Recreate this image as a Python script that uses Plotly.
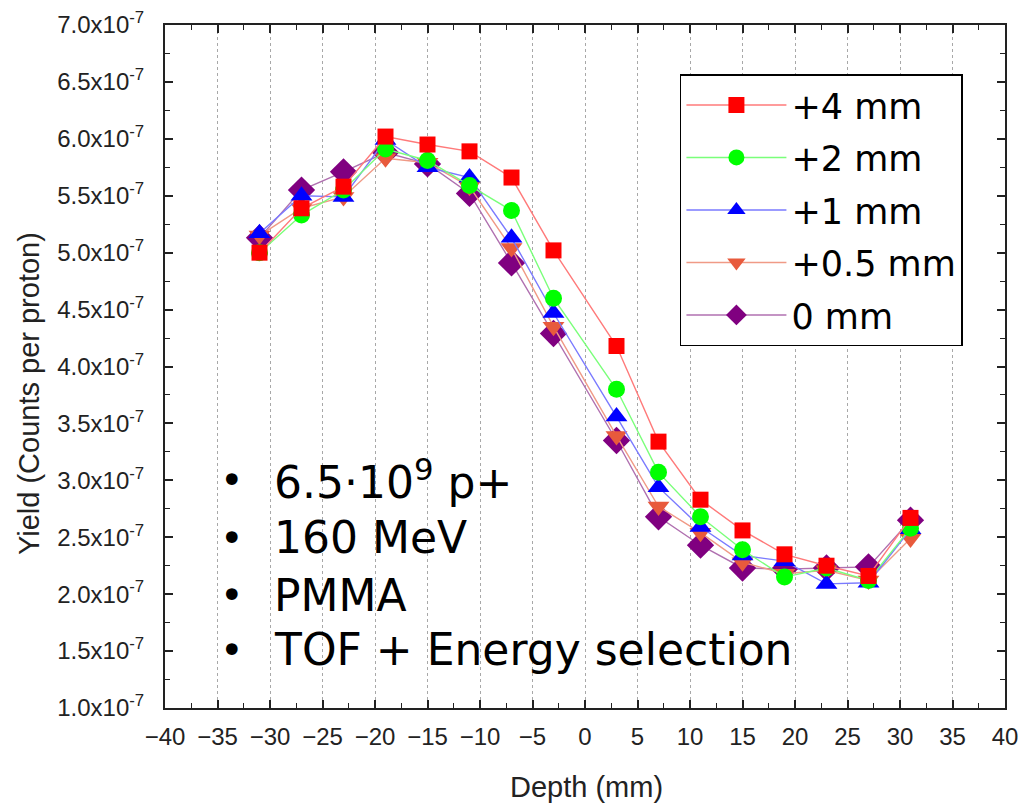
import plotly.graph_objects as go

depth = [-31, -27, -23, -19, -15, -11, -7, -3, 3, 7, 11, 15, 19, 23, 27, 31]

# yields in units of 1e-7 counts per proton
y_4mm   = [5.00, 5.39, 5.58, 6.02, 5.95, 5.89, 5.66, 5.02, 4.18, 3.34, 2.83, 2.56, 2.35, 2.25, 2.16, 2.67]
y_2mm   = [5.00, 5.33, 5.55, 5.91, 5.81, 5.59, 5.37, 4.60, 3.80, 3.07, 2.68, 2.39, 2.15, 2.23, 2.12, 2.58]
y_1mm   = [5.17, 5.50, 5.49, 5.99, 5.75, 5.66, 5.13, 4.47, 3.56, 2.94, 2.59, 2.34, 2.29, 2.09, 2.10, 2.57]
y_05mm  = [5.15, 5.39, 5.49, 5.83, 5.79, 5.58, 5.04, 4.35, 3.39, 2.77, 2.54, 2.28, 2.18, 2.21, 2.12, 2.49]
y_0mm   = [5.13, 5.55, 5.71, 5.88, 5.78, 5.52, 4.91, 4.29, 3.35, 2.68, 2.43, 2.23, 2.22, 2.23, 2.24, 2.65]

series_names = ["+4 mm", "+2 mm", "+1 mm", "+0.5 mm", "0 mm"]
series_values = [y_4mm, y_2mm, y_1mm, y_05mm, y_0mm]

y_tick_vals = [1.0, 1.5, 2.0, 2.5, 3.0, 3.5, 4.0, 4.5, 5.0, 5.5, 6.0, 6.5, 7.0]
y_tick_text = [f"{v:.1f}x10<sup>-7</sup>" for v in y_tick_vals]

notes = ["6.5·10<sup>9</sup> p+", "160 MeV", "PMMA", "TOF + Energy selection"]
x_title = "Depth (mm)"
y_title = "Yield (Counts per proton)"

marker_colors = ["#ff0000", "#00ff00", "#0000ff", "#e85a3c", "#800080"]
line_colors = ["#ff7a7a", "#7aff7a", "#7a7aff", "#f09a86", "#b070b0"]
symbols = ["square", "circle", "triangle-up", "triangle-down", "diamond"]
sizes = [16, 17, 19, 19, 21]

fig = go.Figure()
order = [4, 3, 2, 1, 0]
for i in order:
    fig.add_trace(go.Scatter(
        x=depth, y=series_values[i], name=series_names[i],
        mode="lines+markers",
        line=dict(color=line_colors[i], width=1.4),
        marker=dict(symbol=symbols[i], color=marker_colors[i], size=sizes[i], line=dict(width=0)),
        legendrank=i + 1, legendgroup=f"g{i}",
    ))

note_y = [0.334, 0.249, 0.165, 0.085]
for k, txt in enumerate(notes):
    fig.add_annotation(x=0.08, y=note_y[k], xref="paper", yref="paper", text="•", showarrow=False,
                       xanchor="center", yanchor="middle",
                       font=dict(family="DejaVu Sans", size=40, color="black"))
    fig.add_annotation(x=0.127, y=note_y[k], xref="paper", yref="paper", text=txt, showarrow=False,
                       xanchor="left", yanchor="middle",
                       font=dict(family="DejaVu Sans", size=44, color="black"))

title_font = dict(family="Liberation Sans, Arial", size=29, color="#222")
fig.add_annotation(x=0.502, y=-0.116, xref="paper", yref="paper", text=x_title, showarrow=False,
                   xanchor="center", yanchor="middle", font=title_font)
fig.add_annotation(x=-0.162, y=0.461, xref="paper", yref="paper", text=y_title, showarrow=False,
                   xanchor="center", yanchor="middle", textangle=-90, font=title_font)

axis_common = dict(
    showline=True, linecolor="#222", linewidth=2, mirror="allticks",
    ticks="inside", ticklen=8, tickwidth=1.5, tickcolor="#222",
    tickfont=dict(family="Liberation Sans, Arial", size=24, color="#222"),
    zeroline=False,
)

fig.update_xaxes(
    range=[-40, 40], tickmode="linear", tick0=-40, dtick=5,
    showgrid=True, gridcolor="#a8a8a8", griddash="dot", gridwidth=1,
    minor=dict(ticks="inside", ticklen=5, tickwidth=1.3, tickcolor="#222", dtick=2.5, tick0=-40, showgrid=False),
    ticklabelstandoff=6,
    **axis_common,
)
fig.update_yaxes(
    range=[1.0, 7.0], tickmode="array", tickvals=y_tick_vals, ticktext=y_tick_text,
    showgrid=False,
    minor=dict(ticks="inside", ticklen=5, tickwidth=1.3, tickcolor="#222", dtick=0.25, tick0=1.0, showgrid=False),
    ticklabelstandoff=14,
    **axis_common,
)

fig.update_layout(
    width=1036, height=804,
    margin=dict(l=165, r=31, t=25, b=96, autoexpand=False),
    paper_bgcolor="white", plot_bgcolor="white",
    showlegend=True,
    legend=dict(
        x=0.613, y=0.928, xanchor="left", yanchor="top",
        bgcolor="white", bordercolor="black", borderwidth=1.5,
        font=dict(family="DejaVu Sans", size=35, color="black"),
        itemwidth=100, itemsizing="trace",
        traceorder="grouped", tracegroupgap=4,
    ),
)

fig.write_html("out.html", config={"displayModeBar": False},
               post_script="document.body.style.margin='0';")
